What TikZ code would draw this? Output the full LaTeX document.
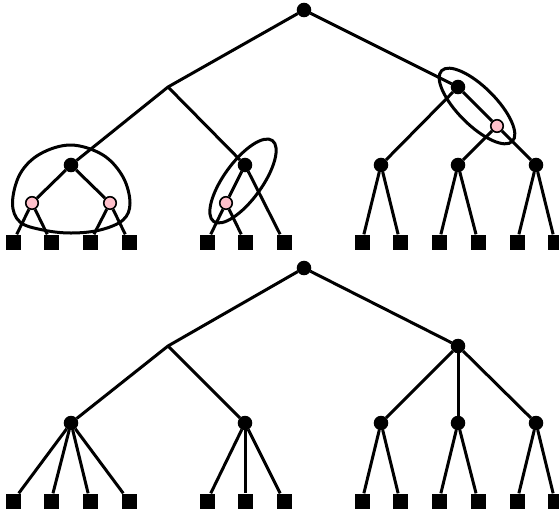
\documentclass[tikz,border=0pt]{standalone}
\usetikzlibrary{shapes.geometric}
\definecolor{pinkc}{RGB}{255,192,203}
\tikzset{
  bdot/.style={circle,fill=black,draw=black,inner sep=0pt,minimum size=13.5pt,line width=1pt},
  pdot/.style={circle,fill=pinkc,draw=black,inner sep=0pt,minimum size=12.5pt,line width=1.6pt},
  leaf/.style={rectangle,fill=black,inner sep=0pt,minimum size=15pt},
  edge/.style={line width=3pt},
  ring/.style={draw,ellipse,inner sep=0pt,line width=3pt},
}
\begin{document}
\begin{tikzpicture}[x=1pt,y=-1pt]
\useasboundingbox (0,0) rectangle (559,515);
\clip (0,0) rectangle (559,515);
% ---------- top tree ----------
\node[bdot] (r) at (304,10) {};
\coordinate (j) at (168,87);
\node[bdot] (rr) at (458,87) {};
\node[bdot] (a) at (71,165) {};
\node[bdot] (b) at (245,165) {};
\node[pdot] (a1) at (32,203) {};
\node[pdot] (a2) at (110,203) {};
\node[pdot] (b1) at (226,203) {};
\node[pdot] (p) at (497,126) {};
\node[bdot] (c) at (381,165) {};
\node[bdot] (d) at (458,165) {};
\node[bdot] (e) at (536,165) {};
\foreach \n/\x in {1/13,2/51,3/90,4/129,5/207,6/245,7/284,8/362,9/400,10/439,11/478,12/517,13/555}
  \node[leaf] (t\n) at (\x,242) {};
\draw[edge] (r) -- (j) -- (a);
\draw[edge] (r) -- (rr);
\draw[edge] (j) -- (b);
\draw[edge] (a) -- (a1); \draw[edge] (a) -- (a2);
\draw[edge] (a1) -- (t1); \draw[edge] (a1) -- (t2);
\draw[edge] (a2) -- (t3); \draw[edge] (a2) -- (t4);
\draw[edge] (b) -- (b1); \draw[edge] (b) -- (t7);
\draw[edge] (b1) -- (t5); \draw[edge] (b1) -- (t6);
\draw[edge] (rr) -- (c); \draw[edge] (rr) -- (p);
\draw[edge] (p) -- (d); \draw[edge] (p) -- (e);
\draw[edge] (c) -- (t8); \draw[edge] (c) -- (t9);
\draw[edge] (d) -- (t10); \draw[edge] (d) -- (t11);
\draw[edge] (e) -- (t12); \draw[edge] (e) -- (t13);
% rings
\draw[edge] plot[smooth cycle,tension=0.6] coordinates {(71,145) (103,155) (123,177) (130,203) (123,220) (100,230) (71,233) (43,230) (20,222) (12.5,203) (20,174) (40,154)};
\node[ring,minimum width=100pt,minimum height=38pt,rotate=54] (e1) at (243,181) {};
\node[ring,minimum width=100pt,minimum height=38pt,rotate=-45] (e2) at (477,106) {};
% ---------- bottom tree ----------
\node[bdot] (R) at (304,268) {};
\coordinate (J) at (168,346);
\node[bdot] (RR) at (458,346) {};
\node[bdot] (A) at (71,423) {};
\node[bdot] (B) at (245,423) {};
\node[bdot] (C) at (381,423) {};
\node[bdot] (D) at (458,423) {};
\node[bdot] (E) at (536,423) {};
\foreach \n/\x in {1/13,2/51,3/90,4/129,5/207,6/245,7/284,8/362,9/400,10/439,11/478,12/517,13/555}
  \node[leaf] (u\n) at (\x,501) {};
\draw[edge] (R) -- (J) -- (A);
\draw[edge] (R) -- (RR);
\draw[edge] (J) -- (B);
\foreach \k in {1,2,3,4} \draw[edge] (A) -- (u\k);
\foreach \k in {5,6,7} \draw[edge] (B) -- (u\k);
\draw[edge] (RR) -- (C); \draw[edge] (RR) -- (D); \draw[edge] (RR) -- (E);
\draw[edge] (C) -- (u8); \draw[edge] (C) -- (u9);
\draw[edge] (D) -- (u10); \draw[edge] (D) -- (u11);
\draw[edge] (E) -- (u12); \draw[edge] (E) -- (u13);
\end{tikzpicture}
\end{document}
